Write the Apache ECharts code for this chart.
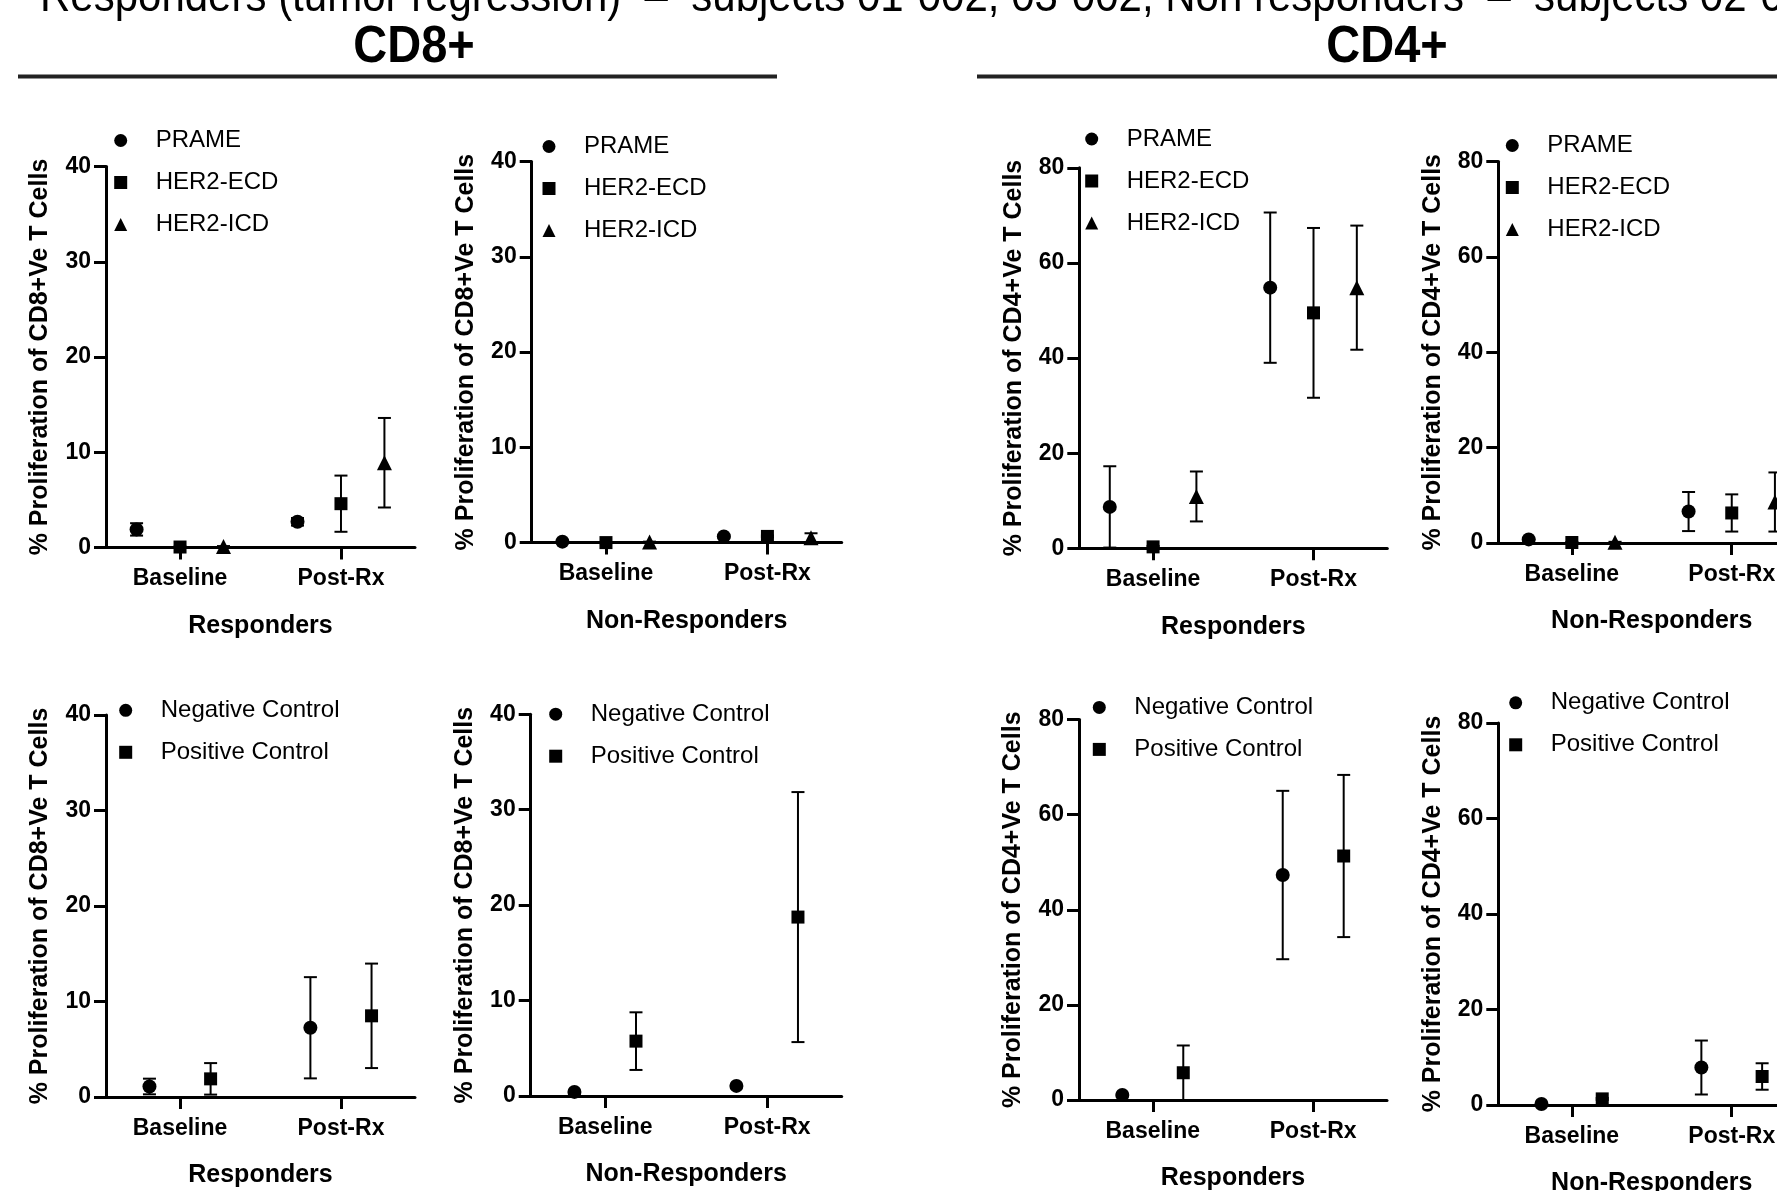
<!DOCTYPE html>
<html>
<head>
<meta charset="utf-8">
<script src="https://cdn.jsdelivr.net/npm/echarts@6/dist/echarts.min.js"></script>
<style>
  html, body { margin: 0; padding: 0; background: #fff; overflow: hidden; }
  #chart { width: 1840px; height: 1191px; }
</style>
</head>
<body>
<div id="chart"></div>
<script>
const categories = ['Baseline', 'Post-Rx']
const antigenNames = ['PRAME', 'HER2-ECD', 'HER2-ICD']
const controlNames = ['Negative Control', 'Positive Control']
const yTicksCD8 = [0, 10, 20, 30, 40]
const yTicksCD4 = [0, 20, 40, 60, 80]

// mean and error (+/-) per series, [Baseline, Post-Rx]
const cd8RespAntigenMean = [[1.9, 2.7], [0.05, 4.6], [0.1, 8.9]]
const cd8RespAntigenErr = [[0.65, 0.4], [0.05, 2.95], [0.05, 4.7]]
const cd8NonRespAntigenMean = [[0.1, 0.65], [0.0, 0.65], [0.05, 0.5]]
const cd8NonRespAntigenErr = [[0.05, 0.1], [0.05, 0.1], [0.05, 0.48]]
const cd4RespAntigenMean = [[8.7, 54.8], [0.3, 49.5], [10.9, 54.8]]
const cd4RespAntigenErr = [[8.55, 15.8], [0.2, 17.85], [5.25, 13.05]]
const cd4NonRespAntigenMean = [[0.75, 6.6], [0.1, 6.3], [0.15, 8.6]]
const cd4NonRespAntigenErr = [[0.1, 4.1], [0.1, 3.9], [0.1, 6.2]]

const cd8RespControlMean = [[1.1, 7.25], [1.9, 8.5]]
const cd8RespControlErr = [[0.82, 5.3], [1.65, 5.47]]
const cd8NonRespControlMean = [[0.43, 1.06], [5.75, 18.75]]
const cd8NonRespControlErr = [[0.1, 0.1], [3.02, 13.1]]
const cd4RespControlMean = [[1.07, 47.3], [5.73, 51.3]]
const cd4RespControlErr = [[0.2, 17.7], [5.73, 17.05]]
const cd4NonRespControlMean = [[0.2, 7.85], [1.28, 5.97]]
const cd4NonRespControlErr = [[0.1, 5.65], [0.2, 2.77]]

const FONT = "'Liberation Sans', Arial, sans-serif"
const cd8Title = '% Proliferation of CD8+Ve T Cells'
const cd4Title = '% Proliferation of CD4+Ve T Cells'

const symbols = {
  'PRAME': ['circle', 14], 'HER2-ECD': ['rect', 13], 'HER2-ICD': ['triangle', 15],
  'Negative Control': ['circle', 14], 'Positive Control': ['rect', 13]
}

const panels = [
  { grid: { left: 106, top: 166.5, width: 309, height: 381 }, ticks: yTicksCD8, yName: cd8Title, xName: 'Responders',
    names: antigenNames, means: cd8RespAntigenMean, errs: cd8RespAntigenErr, legend: { left: 114.2, top: 128.5 } },
  { grid: { left: 531.7, top: 161.6, width: 310, height: 381 }, ticks: yTicksCD8, yName: cd8Title, xName: 'Non-Responders',
    names: antigenNames, means: cd8NonRespAntigenMean, errs: cd8NonRespAntigenErr, legend: { left: 542.5, top: 134.5 } },
  { grid: { left: 1079.3, top: 167.8, width: 308, height: 380.5 }, ticks: yTicksCD4, yName: cd4Title, xName: 'Responders',
    names: antigenNames, means: cd4RespAntigenMean, errs: cd4RespAntigenErr, legend: { left: 1085.2, top: 127 } },
  { grid: { left: 1498.3, top: 161.6, width: 307, height: 381.4 }, ticks: yTicksCD4, yName: cd4Title, xName: 'Non-Responders',
    names: antigenNames, means: cd4NonRespAntigenMean, errs: cd4NonRespAntigenErr, legend: { left: 1505.8, top: 133.5 } },
  { grid: { left: 106, top: 715, width: 309, height: 382 }, ticks: yTicksCD8, yName: cd8Title, xName: 'Responders',
    names: controlNames, means: cd8RespControlMean, errs: cd8RespControlErr, legend: { left: 119.2, top: 698.3 } },
  { grid: { left: 530.7, top: 714.3, width: 311, height: 381.7 }, ticks: yTicksCD8, yName: cd8Title, xName: 'Non-Responders',
    names: controlNames, means: cd8NonRespControlMean, errs: cd8NonRespControlErr, legend: { left: 549.2, top: 702.2 } },
  { grid: { left: 1079, top: 719.5, width: 308, height: 380.5 }, ticks: yTicksCD4, yName: cd4Title, xName: 'Responders',
    names: controlNames, means: cd4RespControlMean, errs: cd4RespControlErr, legend: { left: 1092.8, top: 695.4 } },
  { grid: { left: 1498.3, top: 723, width: 307, height: 382 }, ticks: yTicksCD4, yName: cd4Title, xName: 'Non-Responders',
    names: controlNames, means: cd4NonRespControlMean, errs: cd4NonRespControlErr, legend: { left: 1509.2, top: 690.8 } }
]

// category k sits at x = 2k+1 on a hidden value scale, series are dodged around it
const dodge3 = [-0.54, 0, 0.54]
const dodge2 = [-0.38, 0.38]
const catPos = categories.map((c, k) => 2 * k + 1)

function renderErrorBar(params, api) {
  const x = api.value(0)
  const lo = api.coord([x, api.value(1)])
  const hi = api.coord([x, api.value(2)])
  const half = 6.5
  const style = { stroke: '#000', lineWidth: 2 }
  return {
    type: 'group',
    children: [
      { type: 'line', shape: { x1: lo[0], y1: lo[1], x2: hi[0], y2: hi[1] }, style },
      { type: 'line', shape: { x1: hi[0] - half, y1: hi[1], x2: hi[0] + half, y2: hi[1] }, style },
      { type: 'line', shape: { x1: lo[0] - half, y1: lo[1], x2: lo[0] + half, y2: lo[1] }, style }
    ]
  }
}

const grids = []
const xAxes = []
const yAxes = []
const legends = []
const series = []

panels.forEach((p, i) => {
  grids.push(Object.assign({ containLabel: false, outerBoundsMode: 'none' }, p.grid))
  xAxes.push({
    type: 'value', gridIndex: i, min: 0.08, max: 3.92,
    name: p.xName, nameLocation: 'middle', nameGap: 66,
    nameTextStyle: { fontFamily: FONT, fontSize: 25, fontWeight: 'bold', color: '#000' },
    axisLine: { show: true, onZero: false, lineStyle: { color: '#000', width: 3 } },
    axisTick: { show: true, customValues: catPos, length: 12, lineStyle: { color: '#000', width: 3 } },
    axisLabel: {
      customValues: catPos, margin: 20, fontFamily: FONT, fontSize: 23, fontWeight: 'bold', color: '#000',
      formatter: v => categories[Math.round((v - 1) / 2)]
    },
    splitLine: { show: false }
  })
  yAxes.push({
    type: 'value', gridIndex: i, min: p.ticks[0], max: p.ticks[p.ticks.length - 1],
    interval: p.ticks[1] - p.ticks[0],
    name: p.yName, nameLocation: 'middle', nameGap: 53,
    nameTextStyle: { fontFamily: FONT, fontSize: 25, fontWeight: 'bold', color: '#000' },
    axisLine: { show: true, onZero: false, lineStyle: { color: '#000', width: 3 } },
    axisTick: { show: true, length: 12, lineStyle: { color: '#000', width: 3 } },
    axisLabel: { margin: 15, fontFamily: FONT, fontSize: 23, fontWeight: 'bold', color: '#000' },
    splitLine: { show: false }
  })
  legends.push({
    orient: 'vertical', left: p.legend.left, top: p.legend.top, padding: 0,
    itemWidth: 13, itemHeight: 13, itemGap: 18, selectedMode: false,
    textStyle: { fontFamily: FONT, fontSize: 24, color: '#000', lineHeight: 24, padding: [0, 0, 0, 23.5] },
    data: p.names.map(n => ({ name: n, icon: symbols[n][0] }))
  })
  const dodge = p.names.length === 3 ? dodge3 : dodge2
  p.names.forEach((name, j) => {
    const xs = catPos.map(c => c + dodge[j])
    series.push({
      type: 'custom', name: name, xAxisIndex: i, yAxisIndex: i, z: 3,
      renderItem: renderErrorBar, encode: { x: 0, y: [1, 2] },
      itemStyle: { color: '#000' },
      data: xs.map((x, k) => [x, p.means[j][k] - p.errs[j][k], p.means[j][k] + p.errs[j][k]])
    })
    series.push({
      type: 'scatter', name: name, xAxisIndex: i, yAxisIndex: i, z: 4,
      symbol: symbols[name][0], symbolSize: symbols[name][1],
      itemStyle: { color: '#000', opacity: 1 },
      data: xs.map((x, k) => [x, p.means[j][k]])
    })
  })
})

const chart = echarts.init(document.getElementById('chart'), null, { renderer: 'canvas' })
chart.setOption({
  backgroundColor: '#fff',
  animation: false,
  grid: grids,
  xAxis: xAxes,
  yAxis: yAxes,
  legend: legends,
  series: series,
  graphic: [
    { type: 'text', x: 40, y: -2, scaleY: 1.1,
      style: { text: 'Responders (tumor regression)  \u2013  subjects 01-002, 03-002; Non responders  \u2013  subjects 02-00',
        fontFamily: FONT, fontSize: 42, fill: '#000', align: 'left', verticalAlign: 'middle' } },
    { type: 'text', x: 414, y: 47, scaleY: 1.12,
      style: { text: 'CD8+', fontFamily: FONT, fontSize: 47, fontWeight: 'bold', fill: '#000', align: 'center', verticalAlign: 'middle' } },
    { type: 'text', x: 1387, y: 47, scaleY: 1.12,
      style: { text: 'CD4+', fontFamily: FONT, fontSize: 47, fontWeight: 'bold', fill: '#000', align: 'center', verticalAlign: 'middle' } },
    { type: 'line', shape: { x1: 18, y1: 76.5, x2: 777, y2: 76.5 }, style: { stroke: '#222', lineWidth: 4 } },
    { type: 'line', shape: { x1: 977, y1: 76.5, x2: 1840, y2: 76.5 }, style: { stroke: '#222', lineWidth: 4 } }
  ]
})
</script>
</body>
</html>
